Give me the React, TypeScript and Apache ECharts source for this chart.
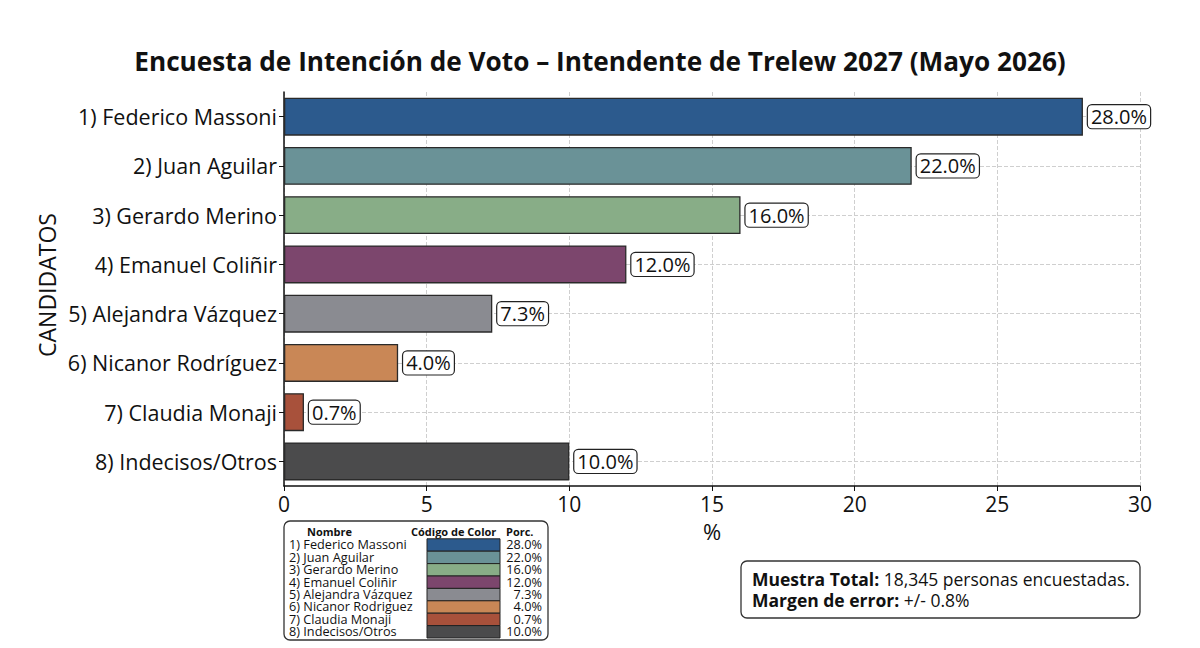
import React, { useEffect, useRef } from "react";
import * as echarts from "echarts";

const TITLE = "Encuesta de Intención de Voto – Intendente de Trelew 2027 (Mayo 2026)";
const candidates = [
  "1) Federico Massoni",
  "2) Juan Aguilar",
  "3) Gerardo Merino",
  "4) Emanuel Coliñir",
  "5) Alejandra Vázquez",
  "6) Nicanor Rodríguez",
  "7) Claudia Monaji",
  "8) Indecisos/Otros",
];
const legendNames = [
  "1) Federico Massoni",
  "2) Juan Aguilar",
  "3) Gerardo Merino",
  "4) Emanuel Coliñir",
  "5) Alejandra Vázquez",
  "6) Nicanor Rodriguez",
  "7) Claudia Monaji",
  "8) Indecisos/Otros",
];
const values = [28.0, 22.0, 16.0, 12.0, 7.3, 4.0, 0.7, 10.0];
const colors = ["#2c5a8d", "#6a9297", "#88ad87", "#7c466d", "#8a8b91", "#c98756", "#a8513b", "#4b4b4c"];
const xTicks = [0, 5, 10, 15, 20, 25, 30];
const sampleText = "18,345 personas encuestadas.";
const marginText = "+/- 0.8%";

const FONT = "'Open Sans', 'Noto Sans', sans-serif";

export default function App() {
  const ref = useRef<HTMLDivElement>(null);
  useEffect(() => {
    document.body.style.margin = "0";
    const chart = echarts.init(ref.current!, null, { renderer: "svg" });

    const tblX = 284, tblY = 521, rowH = 12.4;
    const tableEls: any[] = [
      { type: "rect", shape: { x: tblX, y: tblY, width: 264, height: 119, r: 6 }, style: { fill: "#fff", stroke: "#333", lineWidth: 1.3 } },
      { type: "text", x: 307, y: 531, style: { text: "Nombre", font: `bold 11px ${FONT}`, fill: "#111", verticalAlign: "middle" } },
      { type: "text", x: 411, y: 531, style: { text: "Código de Color", font: `bold 11px ${FONT}`, fill: "#111", verticalAlign: "middle" } },
      { type: "text", x: 506, y: 531, style: { text: "Porc.", font: `bold 11px ${FONT}`, fill: "#111", verticalAlign: "middle" } },
    ];
    legendNames.forEach((n, i) => {
      const cy = 545 + i * rowH;
      tableEls.push({ type: "text", x: 289, y: cy, scaleX: 1.06, style: { text: n, font: `12px ${FONT}`, fill: "#111", verticalAlign: "middle" } });
      tableEls.push({ type: "rect", shape: { x: 427, y: cy - rowH / 2, width: 73, height: rowH }, style: { fill: colors[i], stroke: "#222", lineWidth: 1 } });
      tableEls.push({ type: "text", x: 542, y: cy, scaleX: 1.06, style: { text: values[i].toFixed(1) + "%", font: `12px ${FONT}`, fill: "#111", align: "right", verticalAlign: "middle" } });
    });

    const rich = {
      b: { fontWeight: "bold", fontSize: 17.5, lineHeight: 21, fontFamily: FONT, fill: "#111" },
      n: { fontSize: 17.5, lineHeight: 21, fontFamily: FONT, fill: "#111" },
    };

    chart.setOption({
      animation: false,
      backgroundColor: "#fff",
      textStyle: { fontFamily: FONT },
      title: {
        text: TITLE,
        left: "center",
        top: 43,
        textStyle: { fontSize: 26.2, fontWeight: "bold", color: "#111", fontFamily: FONT },
      },
      grid: { left: 284, right: 60, top: 92, bottom: 162 },
      xAxis: {
        type: "value",
        min: xTicks[0],
        max: xTicks[xTicks.length - 1],
        interval: 5,
        name: "%",
        nameLocation: "middle",
        nameGap: 34,
        nameTextStyle: { fontSize: 22, color: "#111" },
        axisLine: { show: true, lineStyle: { color: "#111", width: 1.5 } },
        axisTick: { show: true, length: 5, lineStyle: { color: "#111" } },
        axisLabel: { fontSize: 21, color: "#111", margin: 7 },
        splitLine: { show: true, lineStyle: { type: "dashed", color: "#cfcfcf", width: 1 } },
      },
      yAxis: {
        type: "category",
        data: candidates,
        inverse: true,
        axisLine: { show: true, lineStyle: { color: "#111", width: 1.5 } },
        axisTick: { show: true, alignWithLabel: true, length: 5, lineStyle: { color: "#111" } },
        axisLabel: { fontSize: 21.5, color: "#111", margin: 7 },
        splitLine: { show: false },
      },
      series: [
        {
          type: "line",
          z: 1,
          data: [],
          markLine: {
            z: 1,
            silent: true,
            symbol: "none",
            label: { show: false },
            lineStyle: { type: "dashed", color: "#cfcfcf", width: 1 },
            data: candidates.map((c) => ({ yAxis: c })),
          },
        },
        {
          type: "bar",
          z: 3,
          barWidth: 38,
          data: values.map((v, i) => ({
            value: v,
            itemStyle: { color: colors[i], borderColor: "#2a2a2a", borderWidth: 1.3 },
          })),
          label: {
            show: true,
            position: "right",
            distance: 5,
            formatter: (p: any) => Number(p.value).toFixed(1) + "%",
            fontSize: 20,
            color: "#111",
            backgroundColor: "#fff",
            borderColor: "#222",
            borderWidth: 1.2,
            borderRadius: 4,
            padding: [2, 3, 1, 3],
          },
        },
      ],
      graphic: [
        {
          type: "text",
          x: 47,
          y: 285,
          rotation: Math.PI / 2,
          style: { text: "CANDIDATOS", font: `23px ${FONT}`, fill: "#111", align: "center", verticalAlign: "middle" },
        },
        ...tableEls,
        { type: "rect", shape: { x: 741, y: 561, width: 399, height: 57, r: 6 }, style: { fill: "#fff", stroke: "#333", lineWidth: 1.3 } },
        {
          type: "text",
          x: 752,
          y: 589.5,
          style: {
            text: "{b|Muestra Total:}{n| " + sampleText + "}\n{b|Margen de error:}{n| " + marginText + "}",
            rich,
            font: `17.5px ${FONT}`,
            lineHeight: 21,
            fill: "#111",
            verticalAlign: "middle",
          },
        },
      ],
    });
    return () => chart.dispose();
  }, []);
  return <div ref={ref} style={{ width: 1200, height: 648 }} />;
}
